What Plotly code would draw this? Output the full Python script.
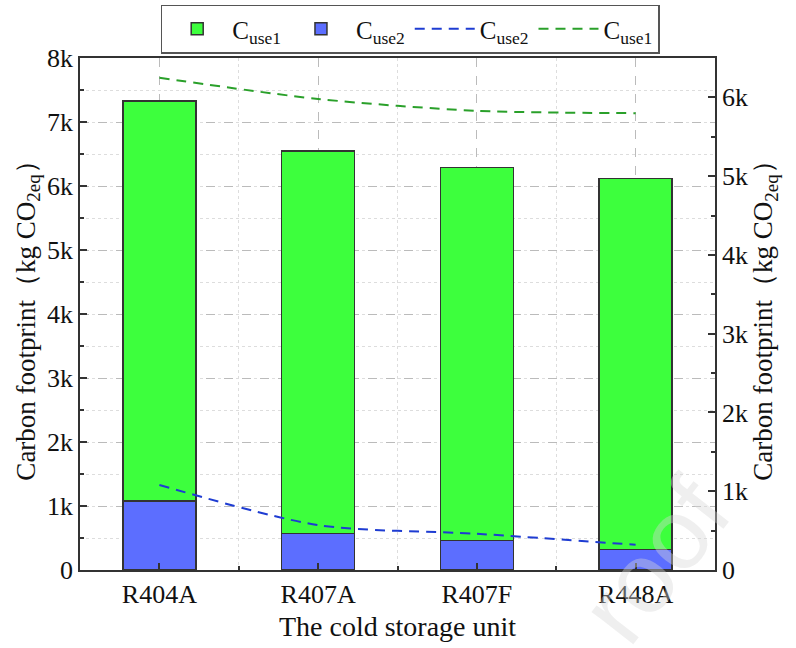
import plotly.graph_objects as go

categories = ["R404A", "R407A", "R407F", "R448A"]
cuse1 = [6250, 5980, 5830, 5800]   # kg CO2eq
cuse2 = [1080, 570, 460, 320]      # kg CO2eq
left_ticks = [0, 1000, 2000, 3000, 4000, 5000, 6000, 7000, 8000]
left_ticktext = ["0", "1k", "2k", "3k", "4k", "5k", "6k", "7k", "8k"]
right_ticks = [0, 1000, 2000, 3000, 4000, 5000, 6000]
right_ticktext = ["0", "1k", "2k", "3k", "4k", "5k", "6k"]

xpos = list(range(len(categories)))
FONT = "Liberation Serif, Times New Roman, serif"

fig = go.Figure()
fig.add_trace(go.Bar(x=xpos, y=cuse2, name="C<sub>use2</sub>", marker=dict(color="#5C6EFF", line=dict(color="#333333", width=1.5)), width=0.46, legendrank=2))
fig.add_trace(go.Bar(x=xpos, y=cuse1, name="C<sub>use1</sub>", marker=dict(color="#3DFF3D", line=dict(color="#333333", width=1.5)), width=0.46, legendrank=1))
fig.add_trace(go.Scatter(x=xpos, y=cuse2, name="C<sub>use2</sub>", mode="lines", yaxis="y2", line=dict(color="#1E3CD2", width=2, dash="10px,7px", shape="spline", smoothing=0.8), legendrank=3))
fig.add_trace(go.Scatter(x=xpos, y=cuse1, name="C<sub>use1</sub>", mode="lines", yaxis="y2", line=dict(color="#2AA02A", width=2, dash="10px,7px", shape="spline", smoothing=0.8), legendrank=4))

axis_common = dict(showline=True, linecolor="#333333", linewidth=1.5, ticks="inside", tickcolor="#333333", ticklen=7, tickwidth=1.5, zeroline=False)

fig.update_layout(
    width=796, height=648,
    margin=dict(l=80, r=81, t=58, b=78, autoexpand=False),
    barmode="stack",
    plot_bgcolor="white", paper_bgcolor="white",
    font=dict(family=FONT, size=23, color="#111111"),
    legend=dict(orientation="h", x=0.52, xanchor="center", yref="container", y=0.993, yanchor="top",
                bordercolor="#555555", borderwidth=1.5, bgcolor="white", font=dict(size=25),
                traceorder="normal", itemwidth=60, tracegroupgap=0),
    xaxis=dict(**axis_common, range=[-0.5, 3.5], tickmode="array", tickvals=xpos, ticktext=categories,
               mirror=True, showgrid=True, gridcolor="#BBBBBB", griddash="dash", gridwidth=1,
               minor=dict(tickmode="array", tickvals=[0.5, 1.5, 2.5], ticks="inside", ticklen=4, tickcolor="#333333", showgrid=True, gridcolor="#DDDDDD", griddash="dot"),
               title=dict(text="The cold storage unit", font=dict(size=28), standoff=8),
               tickfont=dict(size=26)),
    yaxis=dict(**axis_common, range=[0, 8000], tickmode="array", tickvals=left_ticks, ticktext=left_ticktext,
               showgrid=True, gridcolor="#BBBBBB", griddash="dash", gridwidth=1,
               minor=dict(dtick=500, ticks="inside", ticklen=4, tickcolor="#333333", showgrid=True, gridcolor="#DDDDDD", griddash="dot"),
               title=dict(text="Carbon footprint（kg CO<sub>2eq</sub>）", font=dict(size=27), standoff=4),
               tickfont=dict(size=26)),
    yaxis2=dict(**axis_common, overlaying="y", side="right", range=[0, 6500], tickmode="array", tickvals=right_ticks, ticktext=right_ticktext,
                showgrid=False,
                minor=dict(dtick=500, ticks="inside", ticklen=4, tickcolor="#333333"),
                title=dict(text="Carbon footprint（kg CO<sub>2eq</sub>）", font=dict(size=27), standoff=4),
                tickfont=dict(size=26)),
)

fig.add_annotation(text="roof", xref="paper", yref="paper", x=0.905, y=0.02, xanchor="center", yanchor="middle",
                   showarrow=False, textangle=-52,
                   font=dict(family="Liberation Sans, Arial", size=100, color="rgba(215,215,215,0.4)"))

fig.write_html("out.html")
